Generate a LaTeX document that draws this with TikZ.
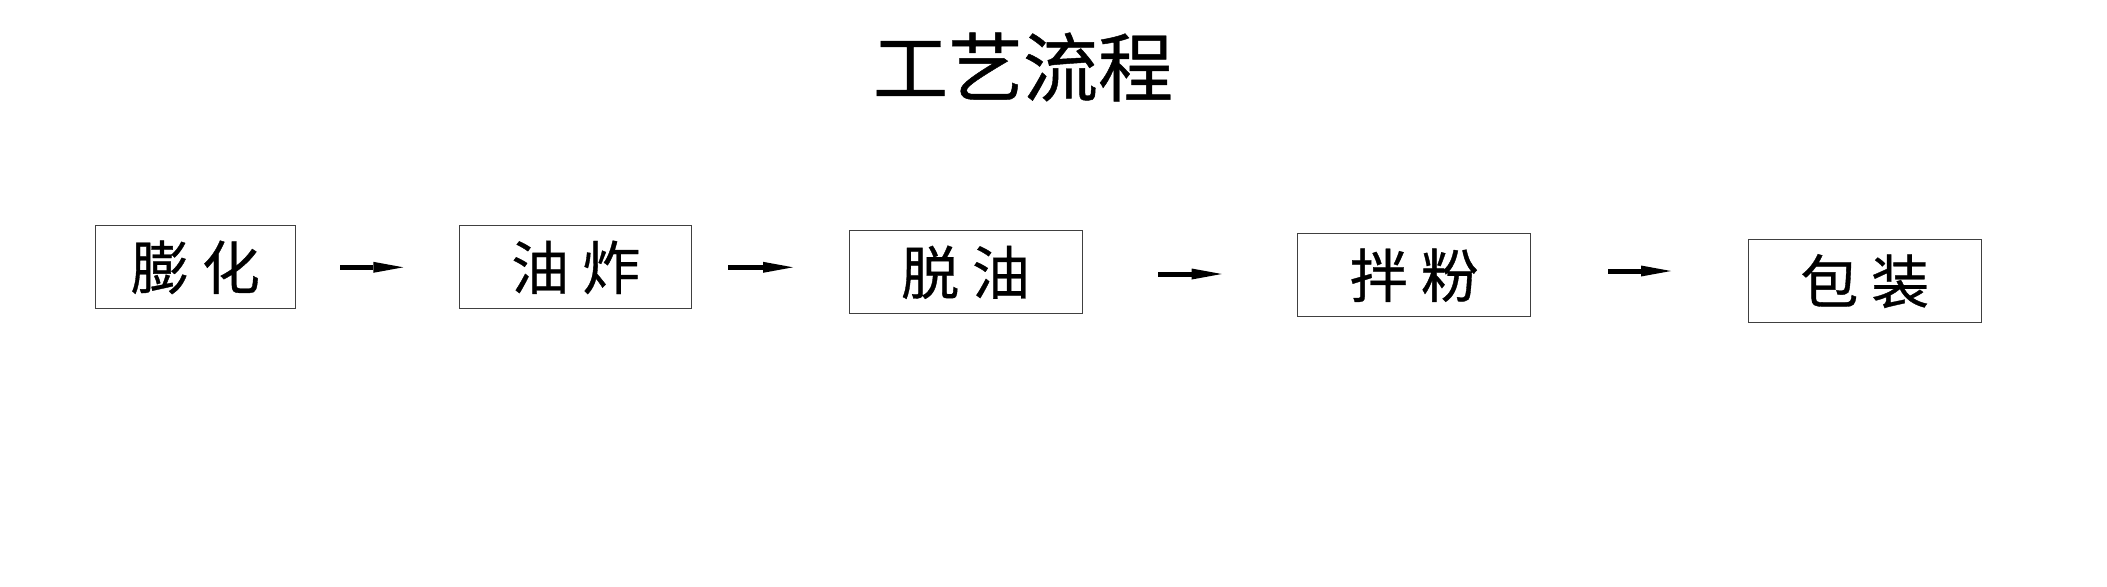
\documentclass[tikz,border=0pt]{standalone}
\usepackage{fontspec}
\newfontfamily\cjk[FakeBold=0.6]{Noto Sans CJK SC}
\usetikzlibrary{arrows.meta}

\begin{document}
\begin{tikzpicture}[
  x=0.02cm, y=-0.02cm,
  every node/.style={align=center},
  %% ─── 節點樣式定義 ────────────────────────────────────────────────
  title/.style={font=\cjk\fontsize{42.7}{48}\selectfont, inner sep=0pt},
  procbox/.style={
    draw=black!75, line width=0.6pt, inner sep=0pt,
    minimum height=1.66cm, font=\cjk\fontsize{33}{36}\selectfont},
  flow/.style={-{Triangle[length=0.6cm, width=0.22cm, line width=0pt]},
    line width=0.1cm, black}
]
  \useasboundingbox (0,0) rectangle (2107,586);

  %% ─── 1. 標題 ─────────────────────────────────────────────────────
  \node[title] (head) at (1023,67) {工艺流程};

  %% ─── 2. 工序方框 ─────────────────────────────────────────────────
  \node[procbox, minimum width=4.00cm] (puff)  at (195.5,267.4) {膨 化};
  \node[procbox, minimum width=4.64cm] (fry)   at (575.8,267.4) {油 炸};
  \node[procbox, minimum width=4.66cm] (drain) at (965.6,272.3) {脱 油};
  \node[procbox, minimum width=4.66cm] (mix)   at (1414.4,275.3) {拌 粉};
  \node[procbox, minimum width=4.66cm] (pack)  at (1864.8,281.1) {包 装};

  %% ─── 3. 工序箭頭 ─────────────────────────────────────────────────
  \foreach \i/\xa/\xb/\y in {1/340/403.3/267.3, 2/728/793/267.3,
                             3/1158.3/1221.7/274, 4/1608/1671/271} {
    \coordinate (s\i) at (\xa,\y);
    \coordinate (e\i) at (\xb,\y);
    \draw[flow] (s\i) -- (e\i);
  }

\end{tikzpicture}
\end{document}
